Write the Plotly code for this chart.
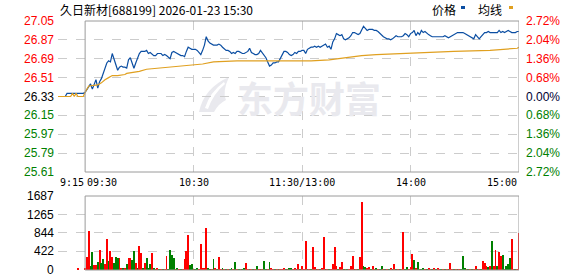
import plotly.graph_objects as go

W, H = 578, 276

# ---------------- data ----------------
title_text = "久日新材[688199] 2026-01-23 15:30"
prev_close = 26.33
price_ticks = [27.05, 26.87, 26.69, 26.51, 26.33, 26.15, 25.97, 25.79, 25.61]
pct_labels = ["2.72%", "2.04%", "1.36%", "0.68%", "0.00%", "0.68%", "1.36%", "2.04%", "2.72%"]
vol_ticks = [1687, 1265, 844, 422, 0]
vol_tick_labels = ["1687", "1265", "844", "422", "0"]
time_ticks = [0, 15, 75, 135, 195, 255]          # minutes since 9:15
time_labels = ["9:15", "09:30", "10:30", "11:30/13:00", "14:00", "15:00"]

# minute price, index = minutes since 9:15 (9:15 .. 15:00, lunch merged)
price = [
    26.33, 26.33, 26.33, 26.33, 26.33, 26.36, 26.36, 26.36, 26.36, 26.36,
    26.36, 26.36, 26.36, 26.36, 26.36,
    26.37, 26.40, 26.43, 26.45, 26.40, 26.44, 26.49, 26.41, 26.47, 26.50,
    26.55, 26.58, 26.65, 26.67, 26.66, 26.74, 26.69, 26.62, 26.58, 26.61,
    26.62, 26.61, 26.61, 26.60, 26.68, 26.70, 26.64, 26.60, 26.65, 26.69,
    26.74, 26.76, 26.76, 26.76, 26.77, 26.74, 26.75, 26.73, 26.72, 26.72,
    26.74, 26.74, 26.74, 26.72, 26.73, 26.72, 26.70, 26.69, 26.75, 26.76,
    26.75, 26.74, 26.73, 26.72, 26.72, 26.71, 26.76, 26.80, 26.79, 26.78,
    26.78, 26.78, 26.77, 26.75, 26.73, 26.77, 26.82, 26.90, 26.86, 26.84,
    26.83, 26.82, 26.82, 26.82, 26.83, 26.82, 26.80, 26.78, 26.77, 26.77,
    26.76, 26.74, 26.75, 26.74, 26.76, 26.76, 26.75, 26.74, 26.74, 26.75,
    26.76, 26.79, 26.75, 26.74, 26.73, 26.73, 26.74, 26.77, 26.75, 26.73,
    26.70, 26.66, 26.62, 26.63, 26.65, 26.65, 26.66, 26.66, 26.69, 26.73,
    26.76, 26.76, 26.75, 26.73, 26.72, 26.73, 26.75, 26.74, 26.76, 26.76,
    26.77, 26.77, 26.74, 26.78, 26.79, 26.80, 26.80, 26.81, 26.80, 26.81,
    26.80, 26.81, 26.82, 26.83, 26.80, 26.81, 26.78, 26.85, 26.88, 26.93,
    26.92, 26.91, 26.92, 26.88, 26.87, 26.88, 26.89, 26.91, 26.94, 26.94,
    26.93, 26.92, 26.93, 26.97, 27.00, 26.98, 26.96, 26.97, 26.97, 26.97,
    26.96, 26.96, 26.95, 26.93, 26.92, 26.90, 26.89, 26.88, 26.88, 26.87,
    26.88, 26.90, 26.91, 26.90, 26.90, 26.90, 26.91, 26.93, 26.92, 26.90,
    26.93, 26.94, 26.96, 26.91, 26.94, 26.92, 26.96, 26.94, 26.95, 26.93,
    26.92, 26.91, 26.90, 26.90, 26.90, 26.90, 26.90, 26.90, 26.90, 26.91,
    26.90, 26.89, 26.90, 26.91, 26.92, 26.93, 26.94, 26.94, 26.94, 26.94,
    26.93, 26.92, 26.91, 26.90, 26.89, 26.88, 26.92, 26.90, 26.88, 26.90,
    26.92, 26.94, 26.94, 26.95, 26.94, 26.94, 26.94, 26.94, 26.94, 26.96,
    26.94, 26.95, 26.94, 26.95, 26.96, 26.95, 26.94, 26.94, 26.94, 26.95,
    26.95,
]

# average price line (minute, value)
avg_minute = [0, 7, 8, 9, 10, 11, 14, 15, 17, 22, 24, 26, 28, 30, 33, 37, 38, 42, 45,
              49, 55, 61, 68, 75, 80, 86, 99, 123, 140, 150, 158, 168, 176, 191, 197,
              219, 239, 246, 254, 255]
avg_price = [26.33, 26.33, 26.36, 26.33, 26.36, 26.33, 26.33, 26.37, 26.43, 26.44,
             26.46, 26.49, 26.51, 26.53, 26.53, 26.54, 26.55, 26.56, 26.57, 26.59,
             26.60, 26.61, 26.62, 26.63, 26.64, 26.66, 26.67, 26.67, 26.67, 26.68,
             26.70, 26.72, 26.73, 26.74, 26.75, 26.76, 26.77, 26.78, 26.79, 26.80]

# minute volume, index = minutes since 9:15
volume = [
    0, 0, 0, 0, 0, 0, 0, 0, 0, 0, 0, 25, 0, 0, 0,
    30, 304, 897, 91, 410, 114, 114, 190, 456, 152,
    251, 137, 714, 205, 433, 296, 152, 296, 281, 281,
    30, 30, 30, 137, 281, 281, 228, 433, 167, 50,
    547, 380, 30, 152, 274, 50, 137, 380, 50, 20,
    50, 20, 20, 20, 20, 319, 20, 456, 342, 274,
    20, 50, 20, 20, 20, 243, 433, 798, 114, 144,
    20, 20, 50, 20, 593, 50, 50, 965, 50, 20,
    20, 258, 50, 20, 304, 20, 50, 20, 20, 20,
    20, 40, 20, 190, 20, 20, 20, 20, 50, 167,
    20, 20, 20, 20, 20, 91, 20, 20, 20, 205,
    20, 20, 190, 50, 20, 20, 20, 20, 20, 20,
    40, 20, 20, 30, 30, 20, 40, 20, 137, 20,
    80, 20, 661, 20, 20, 20, 532, 60, 20, 20,
    20, 40, 760, 20, 20, 20, 20, 137, 532, 80,
    20, 60, 182, 20, 20, 20, 20, 80, 319, 20,
    20, 20, 304, 1558, 91, 60, 40, 60, 20, 80,
    20, 40, 20, 20, 91, 20, 20, 20, 20, 40,
    20, 137, 20, 20, 20, 20, 866, 20, 60, 20,
    60, 365, 228, 40, 182, 20, 20, 40, 20, 20,
    40, 20, 20, 40, 20, 40, 20, 20, 20, 20,
    20, 20, 167, 20, 20, 20, 20, 20, 20, 319,
    40, 20, 20, 20, 20, 20, 80, 20, 20, 20,
    205, 167, 80, 60, 80, 661, 100, 456, 100, 410,
    319, 342, 20, 100, 137, 281, 707, 20, 20, 20,
    836,
]
# direction of each minute bar: R = up, G = down
volume_dir = (
    "RRRRRRRRRRRRRRR"
    "RRRGGRRGRG" "GRRGRRGGGR" "RGRGRRGGRG" "RRGRGGGRGR" "RGRGRRGGGG"
    "RGRGRRRRGG" "RGGRRRRRGG" "RGRGRRGRGR" "GGRGRGRGGR" "RGRGRGRGRG"
    "GRGRRGRGRR" "RGRGGRRGRG" "RRRGRGRRGR" "GRRGRGRRRR" "GRRGRGRRRG"
    "RGRRGGRRGR" "RGRGGRGRGR" "GRGRGRRGGR" "RRGRGRGGRG" "RRGRGRRGRG"
    "RGRRGRGRGG" "GRGRGRRGRG" "RRRGRGRRGR" "RGRGGGRRGR" "R"
)

# ---------------- figure ----------------
RED, GREEN = "#ff0000", "#008000"
BLUE, GOLD = "#0b4ea2", "#e0a020"
GRID = "#cccccc"
FRAME = "#9a9a9a"
WM = "#e9e9ee"

minutes = list(range(len(price)))
bar_colors = [RED if d == "R" else GREEN for d in volume_dir]

fig = go.Figure()
fig.add_trace(go.Scatter(x=minutes, y=price, mode="lines",
                         line=dict(color=BLUE, width=1.2), xaxis="x", yaxis="y",
                         hoverinfo="skip"))
fig.add_trace(go.Scatter(x=avg_minute, y=avg_price, mode="lines",
                         line=dict(color=GOLD, width=1.2), xaxis="x", yaxis="y",
                         hoverinfo="skip"))
fig.add_trace(go.Bar(x=list(range(len(volume))), y=volume,
                     marker=dict(color=bar_colors, line=dict(width=0)),
                     width=0.5, xaxis="x2", yaxis="y2", hoverinfo="skip"))

X0, X1 = 58 / W, 519 / W
PY0, PY1 = 1 - 172 / H, 1 - 21 / H
VY0, VY1 = 1 - 270 / H, 1 - 196 / H

vgrid = [0, 75, 135, 195]
common_x = dict(range=[0, 255], domain=[X0, X1], showticklabels=False, ticks="",
                tickvals=vgrid, showgrid=True, gridcolor=GRID, griddash="dash",
                gridwidth=1, zeroline=False, showline=False, fixedrange=True)
fig.update_layout(
    width=W, height=H, margin=dict(l=0, r=0, t=0, b=0),
    paper_bgcolor="white", plot_bgcolor="rgba(0,0,0,0)", showlegend=False, bargap=0,
    xaxis=dict(anchor="y", **common_x),
    xaxis2=dict(anchor="y2", **common_x),
    yaxis=dict(range=[25.61, 27.05], domain=[PY0, PY1], tickvals=price_ticks,
               showticklabels=False, ticks="", showgrid=True, gridcolor=GRID,
               griddash="dash", zeroline=False, showline=False),
    yaxis2=dict(range=[0, 1687], domain=[VY0, VY1], tickvals=vol_ticks,
                showticklabels=False, ticks="", showgrid=True, gridcolor=GRID,
                griddash="dash", zeroline=False, showline=False),
)


def px(x, y):
    return f"{x / W:.5f},{1 - y / H:.5f}"


logo_path = ("M " + px(199, 112) + " Q " + px(204, 88) + " " + px(229, 77)
             + " Q " + px(222, 92) + " " + px(226, 100)
             + " Q " + px(218, 104) + " " + px(214, 112) + " Z")
logo_cut1 = ("M " + px(205, 108) + " Q " + px(210, 92) + " " + px(224, 82)
             + " L " + px(225, 84) + " Q " + px(213, 94) + " " + px(208, 109) + " Z")

shapes = [
    dict(type="path", xref="paper", yref="paper", path=logo_path, layer="below",
         fillcolor=WM, line=dict(width=0)),
    dict(type="path", xref="paper", yref="paper", path=logo_cut1, layer="below",
         fillcolor="white", line=dict(width=0)),
    dict(type="rect", xref="x", yref="paper", x0=15, x1=255, y0=PY0, y1=PY1,
         line=dict(color=FRAME, width=1)),
    dict(type="rect", xref="x", yref="paper", x0=15, x1=255, y0=VY0, y1=VY1,
         line=dict(color=FRAME, width=1)),
    # legend swatches
    dict(type="rect", xref="paper", yref="paper", x0=461 / W, x1=465 / W,
         y0=1 - 9 / H, y1=1 - 6 / H, line=dict(width=0), fillcolor=BLUE),
    dict(type="rect", xref="paper", yref="paper", x0=509 / W, x1=513 / W,
         y0=1 - 9 / H, y1=1 - 6 / H, line=dict(width=0), fillcolor=GOLD),
]
fig.update_layout(shapes=shapes)

ann = []
LF = "Arial, Liberation Sans, sans-serif"
MONO = "DejaVu Sans Mono, monospace"
CJK = "Noto Sans CJK SC, sans-serif"

# watermark
ann.append(dict(text="<b>东方财富</b>", xref="paper", yref="paper", x=309 / W, y=1 - 97 / H,
                showarrow=False, font=dict(family=CJK, size=36, color=WM),
                xanchor="center", yanchor="middle"))

for v, pl in zip(price_ticks, pct_labels):
    if v > prev_close + 1e-9:
        c, c2 = RED, RED
    elif v < prev_close - 1e-9:
        c, c2 = GREEN, GREEN
    else:
        c, c2 = "#000000", "#000033"
    ann.append(dict(text=f"{v:.2f}", xref="paper", yref="y", x=56 / W, y=v,
                    showarrow=False, xanchor="right", yanchor="middle",
                    font=dict(family=LF, size=12, color=c)))
    ann.append(dict(text=pl, xref="paper", yref="y", x=524 / W, y=v,
                    showarrow=False, xanchor="left", yanchor="middle",
                    font=dict(family=LF, size=12, color=c2)))

for v, t in zip(vol_ticks, vol_tick_labels):
    ann.append(dict(text=t, xref="paper", yref="y2", x=56 / W, y=v,
                    showarrow=False, xanchor="right", yanchor="middle",
                    font=dict(family=LF, size=12, color="#000000")))

anchors = ["left", "left", "center", "center", "center", "right"]
for m, t, a in zip(time_ticks, time_labels, anchors):
    ann.append(dict(text=t, xref="x", yref="paper", x=m, y=1 - 182 / H,
                    showarrow=False, xanchor=a, yanchor="middle",
                    font=dict(family=MONO, size=10, color="#000000")))

ann.append(dict(text=title_text, xref="paper", yref="paper", x=58 / W, y=1 - 9 / H,
                showarrow=False, xanchor="left", yanchor="middle",
                font=dict(family=CJK, size=12, color="#000000")))
ann.append(dict(text="价格", xref="paper", yref="paper", x=430 / W, y=1 - 9 / H,
                showarrow=False, xanchor="left", yanchor="middle",
                font=dict(family=CJK, size=12, color="#000000")))
ann.append(dict(text="均线", xref="paper", yref="paper", x=476 / W, y=1 - 9 / H,
                showarrow=False, xanchor="left", yanchor="middle",
                font=dict(family=CJK, size=12, color="#000000")))
fig.update_layout(annotations=ann)

fig.write_html("out.html", config=dict(displayModeBar=False))
